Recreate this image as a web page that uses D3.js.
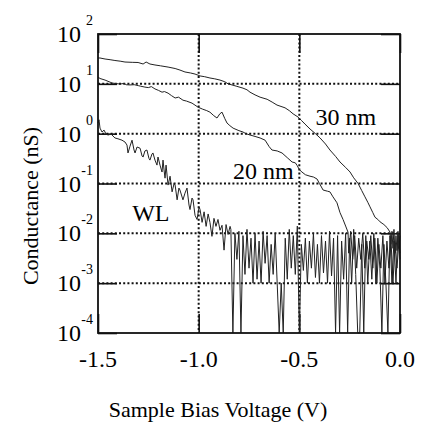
<!DOCTYPE html>
<html>
<head>
<meta charset="utf-8">
<script src="https://cdn.jsdelivr.net/npm/d3@7"></script>
<style>
  body { margin: 0; background: #fff; }
</style>
</head>
<body>
<svg id="chart"></svg>
<script>
// axis ticks
const xTicks = [-1.5, -1.0, -0.5, 0.0];
const yTicks = [1e-4, 1e-3, 1e-2, 1e-1, 1e0, 1e1, 1e2];
const yExponents = ['-4', '-3', '-2', '-1', '0', '1', '2'];
const xGrid = [-1.0, -0.5];
const yGrid = [1e-3, 1e-2, 1e-1, 1e0, 1e1];

// curve labels
const labels = [
  { text: '30 nm', v: -0.42, g: 1.5 },
  { text: '20 nm', v: -0.83, g: 0.125 },
  { text: 'WL', v: -1.33, g: 0.018 }
];

// [sample bias (V), conductance (nS)]
const thirty = [
  [-1.5, 33], [-1.49, 33], [-1.465, 31.5], [-1.44, 30.5], [-1.416, 29.4], [-1.39, 28.5],
  [-1.366, 27.4], [-1.33, 27], [-1.301, 26.8], [-1.276, 25], [-1.261, 27.4], [-1.242, 25],
  [-1.217, 23.9], [-1.19, 23], [-1.152, 21.7], [-1.117, 20.3], [-1.093, 18.9], [-1.068, 17.3],
  [-1.04, 16.5], [-1.018, 15.7], [-0.993, 14.4], [-0.97, 13.9], [-0.944, 13.1], [-0.92, 12.6],
  [-0.894, 11.9], [-0.87, 11], [-0.854, 10], [-0.814, 9.0], [-0.78, 8.2], [-0.76, 7.6],
  [-0.745, 6.8], [-0.72, 6.0], [-0.695, 5.4], [-0.66, 4.9], [-0.635, 4.3], [-0.611, 3.75],
  [-0.571, 3.3], [-0.55, 2.9], [-0.531, 2.5], [-0.506, 2.15], [-0.49, 1.85], [-0.472, 1.56],
  [-0.447, 1.24], [-0.42, 1.0], [-0.397, 0.82], [-0.37, 0.62], [-0.348, 0.47], [-0.32, 0.35],
  [-0.298, 0.27], [-0.27, 0.21], [-0.248, 0.17], [-0.23, 0.13], [-0.208, 0.10], [-0.19, 0.072],
  [-0.174, 0.054], [-0.16, 0.042], [-0.149, 0.034], [-0.135, 0.026], [-0.124, 0.021], [-0.11, 0.019],
  [-0.099, 0.017], [-0.08, 0.015], [-0.064, 0.013], [-0.049, 0.0105], [-0.045, 0.006], [-0.04, 0.011],
  [-0.035, 0.005], [-0.03, 0.012], [-0.025, 0.004], [-0.02, 0.009], [-0.015, 0.0045], [-0.01, 0.010],
  [-0.005, 0.005], [0.0, 0.009]
];

const twenty = [
  [-1.5, 13.7], [-1.49, 12.8], [-1.465, 11.9], [-1.44, 10.8], [-1.43, 10.4], [-1.41, 10.1],
  [-1.39, 9.9], [-1.37, 10.2], [-1.36, 9.6], [-1.341, 9.5], [-1.32, 9.6], [-1.30, 9.2],
  [-1.29, 9.0], [-1.267, 8.6], [-1.25, 8.4], [-1.235, 8.8], [-1.217, 7.9], [-1.20, 7.4],
  [-1.182, 6.8], [-1.17, 7.0], [-1.152, 6.5], [-1.135, 5.8], [-1.117, 5.2], [-1.10, 5.4],
  [-1.078, 4.7], [-1.06, 4.5], [-1.033, 4.1], [-1.003, 3.4], [-0.98, 3.1], [-0.96, 2.9],
  [-0.944, 2.7], [-0.925, 2.3], [-0.909, 2.06], [-0.895, 2.5], [-0.884, 2.7], [-0.87, 2.0],
  [-0.859, 1.63], [-0.845, 1.45], [-0.829, 1.29], [-0.80, 1.15], [-0.78, 1.08], [-0.765, 1.0],
  [-0.745, 0.94], [-0.72, 0.88], [-0.695, 0.82], [-0.67, 0.74], [-0.65, 0.55], [-0.636, 0.47],
  [-0.61, 0.45], [-0.586, 0.41], [-0.56, 0.33], [-0.536, 0.27], [-0.52, 0.26], [-0.511, 0.23],
  [-0.50, 0.19], [-0.487, 0.17], [-0.47, 0.15], [-0.447, 0.14], [-0.43, 0.135], [-0.412, 0.123],
  [-0.40, 0.10], [-0.382, 0.074], [-0.36, 0.070], [-0.348, 0.068], [-0.333, 0.054], [-0.313, 0.041],
  [-0.298, 0.026], [-0.283, 0.019], [-0.27, 0.014], [-0.258, 0.0105], [-0.255, 0.004], [-0.245, 0.011],
  [-0.235, 0.003], [-0.225, 0.009], [-0.215, 0.002], [-0.205, 0.008], [-0.195, 0.003], [-0.185, 0.010],
  [-0.175, 0.002], [-0.165, 0.007], [-0.155, 0.003], [-0.145, 0.009], [-0.135, 0.002], [-0.125, 0.008],
  [-0.115, 0.001], [-0.105, 0.006], [-0.095, 0.002], [-0.085, 0.009], [-0.075, 0.001], [-0.065, 0.007],
  [-0.055, 0.002], [-0.045, 0.008], [-0.035, 0.001], [-0.025, 0.006], [-0.015, 0.002], [-0.005, 0.007],
  [0.0, 0.003]
];

// wetting layer, zeros drawn as 1e-5 (clamped to the bottom)
const wl = [
  [-1.5, 1.63], [-1.495, 1.9], [-1.49, 1.29], [-1.48, 1.08], [-1.47, 1.18], [-1.46, 0.98],
  [-1.45, 0.94], [-1.435, 0.98], [-1.416, 0.82], [-1.401, 0.79], [-1.381, 0.74], [-1.366, 0.68],
  [-1.356, 0.59], [-1.351, 0.41], [-1.341, 0.56], [-1.331, 0.74], [-1.321, 0.47], [-1.316, 0.41],
  [-1.306, 0.54], [-1.291, 0.51], [-1.281, 0.355], [-1.276, 0.34], [-1.267, 0.45], [-1.257, 0.47],
  [-1.247, 0.32], [-1.242, 0.295], [-1.232, 0.39], [-1.227, 0.41], [-1.217, 0.295], [-1.207, 0.234],
  [-1.202, 0.34], [-1.192, 0.234], [-1.182, 0.17], [-1.177, 0.295], [-1.172, 0.187], [-1.167, 0.128],
  [-1.162, 0.234], [-1.152, 0.093], [-1.142, 0.14], [-1.132, 0.068], [-1.122, 0.10], [-1.117, 0.093],
  [-1.107, 0.047], [-1.098, 0.081], [-1.093, 0.074], [-1.078, 0.047], [-1.068, 0.064], [-1.058, 0.081],
  [-1.048, 0.037], [-1.043, 0.030], [-1.033, 0.051], [-1.028, 0.047], [-1.018, 0.023], [-1.008, 0.019],
  [-0.998, 0.034], [-0.993, 0.030], [-0.983, 0.0166], [-0.973, 0.027], [-0.963, 0.0138], [-0.953, 0.0245],
  [-0.944, 0.0166], [-0.934, 0.0087], [-0.924, 0.020], [-0.914, 0.0138], [-0.904, 0.019], [-0.894, 0.0115],
  [-0.884, 0.0145], [-0.874, 0.0046], [-0.864, 0.015], [-0.854, 0.0095], [-0.844, 0.0138],
  [-0.84, 0.012], [-0.83, 1e-5], [-0.82, 0.010], [-0.81, 0.003], [-0.80, 0.011], [-0.79, 1e-5],
  [-0.78, 0.009], [-0.77, 0.0015], [-0.76, 0.012], [-0.75, 0.002], [-0.74, 0.008], [-0.73, 0.001],
  [-0.72, 0.010], [-0.71, 0.0012], [-0.70, 0.007], [-0.69, 0.001], [-0.68, 0.011], [-0.67, 0.0025],
  [-0.66, 0.009], [-0.65, 0.001], [-0.64, 0.006], [-0.63, 0.0015], [-0.62, 0.010], [-0.61, 0.001],
  [-0.60, 1e-5], [-0.59, 0.001], [-0.58, 1e-5], [-0.57, 0.008], [-0.56, 0.0012], [-0.55, 0.012],
  [-0.54, 0.002], [-0.53, 0.009], [-0.52, 0.0015], [-0.51, 0.014], [-0.50, 1e-5], [-0.49, 0.006],
  [-0.48, 0.0018], [-0.47, 0.008], [-0.46, 0.001], [-0.45, 0.007], [-0.44, 0.002], [-0.43, 0.010],
  [-0.42, 0.0013], [-0.41, 0.006], [-0.40, 0.001], [-0.39, 0.009], [-0.38, 0.0016], [-0.37, 0.007],
  [-0.36, 0.001], [-0.35, 0.011], [-0.34, 0.0014], [-0.33, 0.008], [-0.32, 1e-5], [-0.31, 0.009],
  [-0.30, 1e-5], [-0.29, 0.007], [-0.28, 0.0012], [-0.27, 0.010], [-0.26, 1e-5], [-0.25, 0.008],
  [-0.24, 0.001], [-0.23, 0.012], [-0.22, 0.0015], [-0.21, 1e-5], [-0.20, 1e-5], [-0.19, 0.006],
  [-0.18, 1e-5], [-0.17, 0.009], [-0.16, 0.001], [-0.15, 0.007], [-0.14, 0.0012], [-0.13, 0.010],
  [-0.12, 0.001], [-0.11, 0.008], [-0.10, 0.002], [-0.09, 1e-5], [-0.08, 0.006], [-0.07, 0.001],
  [-0.06, 1e-5], [-0.05, 0.009], [-0.04, 0.001], [-0.03, 0.007], [-0.02, 0.001], [-0.01, 0.011],
  [0.0, 0.004]
];

const W = 421, H = 427;
const margin = { top: 34, right: 21, bottom: 94, left: 98 };
const width = W - margin.left - margin.right;
const height = H - margin.top - margin.bottom;
const tickLen = 19;
const serif = "'Liberation Serif', 'DejaVu Serif', serif";

const svg = d3.select('#chart').attr('width', W).attr('height', H)
  .style('font-family', serif);
const g = svg.append('g').attr('transform', `translate(${margin.left},${margin.top})`);

const x = d3.scaleLinear().domain([-1.5, 0]).range([0, width]);
const y = d3.scaleLog().domain([1e-4, 1e2]).range([height, 0]).clamp(true);

// dotted grid
g.append('g')
  .selectAll('line')
  .data(yGrid)
  .join('line')
  .attr('x1', 0).attr('x2', width)
  .attr('y1', d => y(d)).attr('y2', d => y(d))
  .attr('stroke', '#111').attr('stroke-width', 2).attr('stroke-dasharray', '2 2.2');

g.append('g')
  .selectAll('line')
  .data(xGrid)
  .join('line')
  .attr('y1', 0).attr('y2', height)
  .attr('x1', d => x(d)).attr('x2', d => x(d))
  .attr('stroke', '#111').attr('stroke-width', 2).attr('stroke-dasharray', '2 2.2');

// inward ticks on all four sides
const tickAxes = [
  [d3.axisLeft(y).tickValues(yTicks).tickSize(-tickLen), `translate(0,0)`],
  [d3.axisRight(y).tickValues(yTicks).tickSize(-tickLen), `translate(${width},0)`],
  [d3.axisBottom(x).tickValues(xTicks).tickSize(-tickLen), `translate(0,${height})`],
  [d3.axisTop(x).tickValues(xTicks).tickSize(-tickLen), `translate(0,0)`]
];
tickAxes.forEach(([axis, t]) => {
  const a = g.append('g').attr('transform', t).call(axis.tickFormat(''));
  a.select('.domain').remove();
  a.selectAll('line').attr('stroke', '#111').attr('stroke-width', 1.6);
});

// curves
const line = d3.line().x(d => x(d[0])).y(d => y(d[1]));
[wl, twenty, thirty].forEach(series => {
  g.append('path')
    .datum(series)
    .attr('d', line)
    .attr('fill', 'none')
    .attr('stroke', '#222')
    .attr('stroke-width', 1)
    .attr('stroke-linejoin', 'round');
});

// frame
g.append('rect')
  .attr('width', width).attr('height', height)
  .attr('fill', 'none').attr('stroke', '#111').attr('stroke-width', 1.8);

// y tick labels: 10 with exponent
const yLab = g.append('g').selectAll('g').data(yTicks).join('g');
yLab.append('text')
  .attr('x', -17).attr('y', d => y(d) + 8)
  .attr('text-anchor', 'end')
  .attr('font-family', serif)
  .style('font-size', '24px')
  .text('10');
yLab.append('text')
  .attr('x', -5).attr('y', d => y(d) - 9)
  .attr('text-anchor', 'end')
  .attr('font-family', serif)
  .style('font-size', '14px')
  .text((d, i) => yExponents[i]);

// x tick labels
g.append('g').selectAll('text')
  .data(xTicks)
  .join('text')
  .attr('x', d => x(d)).attr('y', height + 34)
  .attr('text-anchor', 'middle')
  .attr('font-family', serif)
  .style('font-size', '24px')
  .text(d => d.toFixed(1));

// curve labels
g.append('g').selectAll('text')
  .data(labels)
  .join('text')
  .attr('x', d => x(d.v)).attr('y', d => y(d.g))
  .attr('font-family', serif)
  .style('font-size', '24px')
  .text(d => d.text);

// axis titles
g.append('text')
  .attr('x', 120).attr('y', 383)
  .attr('text-anchor', 'middle')
  .attr('font-family', serif)
  .style('font-size', '22px')
  .text('Sample Bias Voltage (V)');

g.append('text')
  .attr('transform', 'rotate(-90)')
  .attr('x', -172).attr('y', -60)
  .attr('text-anchor', 'middle')
  .attr('font-family', serif)
  .style('font-size', '22px')
  .text('Conductance (nS)');
</script>
</body>
</html>
